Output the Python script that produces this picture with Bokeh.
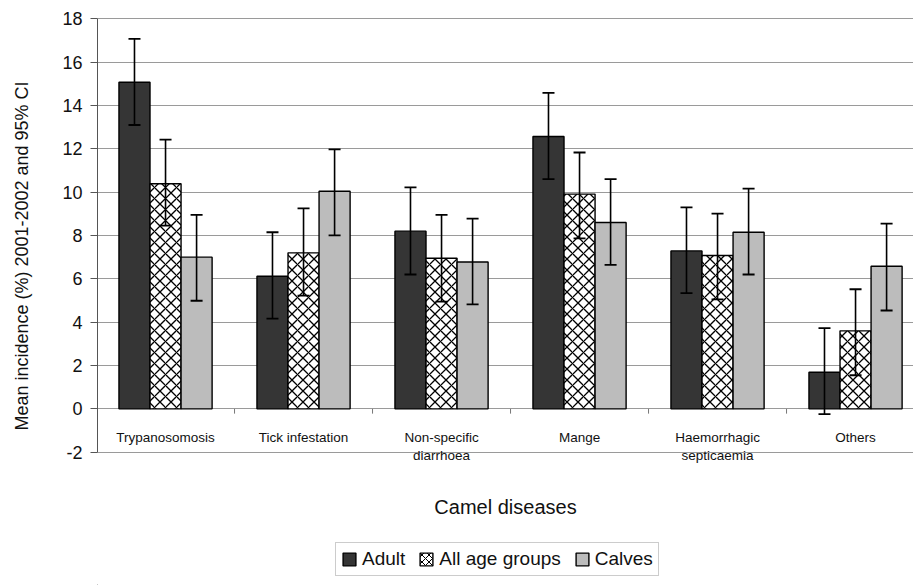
from bokeh.plotting import figure
from bokeh.layouts import column
from bokeh.models import (Range1d, FixedTicker, ColumnDataSource, Whisker, TeeHead,
                          Legend, LegendItem, LinearAxis)
from bokeh.core.properties import value
from bokeh.embed import file_html
from bokeh.resources import INLINE

# ---------------- data ----------------
categories = ["Trypanosomosis", "Tick infestation", "Non-specific\ndiarrhoea",
              "Mange", "Haemorrhagic\nsepticaemia", "Others"]
series_names = ["Adult", "All age groups", "Calves"]

adult = [15.07, 6.12, 8.2, 12.57, 7.29, 1.69]
adult_lo = [13.1, 4.16, 6.2, 10.6, 5.34, -0.24]
adult_hi = [17.07, 8.15, 10.22, 14.58, 9.3, 3.73]

allage = [10.39, 7.2, 6.95, 9.91, 7.08, 3.6]
allage_lo = [8.46, 5.23, 4.95, 7.87, 5.05, 1.55]
allage_hi = [12.42, 9.25, 8.95, 11.83, 9.01, 5.52]

calves = [7.0, 10.04, 6.78, 8.6, 8.15, 6.58]
calves_lo = [4.99, 8.01, 4.82, 6.64, 6.2, 4.54]
calves_hi = [8.95, 11.97, 8.78, 10.6, 10.16, 8.55]

y_ticks = [-2, 0, 2, 4, 6, 8, 10, 12, 14, 16, 18]

# ---------------- styles ----------------
FONT = "Liberation Sans"
fills = ["#353535", "white", "#bcbcbc"]
hatches = [" ", "x", " "]

# ---------------- main figure ----------------
p = figure(width=913, height=530, output_backend="svg", toolbar_location=None,
           x_range=Range1d(0.007, 5.92), y_range=Range1d(-3.998, 18.106),
           min_border_left=97, min_border_right=0, min_border_top=16,
           min_border_bottom=35, x_axis_type=None)
p.title.visible = False
p.outline_line_color = None
p.background_fill_color = "white"
p.border_fill_color = "white"

p.yaxis.ticker = FixedTicker(ticks=y_ticks)
p.yaxis.major_label_overrides = {t: str(t) for t in y_ticks}
p.yaxis.bounds = (-2, 18)
p.yaxis.minor_tick_line_color = None
p.yaxis.major_tick_out = 7
p.yaxis.major_tick_in = 0
p.yaxis.major_tick_line_color = "#555555"
p.yaxis.axis_line_color = "#555555"
p.yaxis.major_label_text_font = FONT
p.yaxis.major_label_text_font_size = "18px"
p.yaxis.major_label_text_color = "#111111"
p.yaxis.major_label_standoff = 8
p.yaxis.axis_label = "Mean incidence (%) 2001-2002 and 95% CI"
p.yaxis.axis_label_text_font = FONT
p.yaxis.axis_label_text_font_size = "18px"
p.yaxis.axis_label_text_font_style = "normal"
p.yaxis.axis_label_text_color = "#111111"
p.yaxis.axis_label_standoff = 27

p.ygrid.ticker = FixedTicker(ticks=y_ticks)
p.ygrid.grid_line_color = "#9a9a9a"
p.ygrid.grid_line_width = 1
p.xgrid.visible = False

xax = LinearAxis(ticker=FixedTicker(ticks=[]), axis_label="Camel diseases",
                 axis_line_color=None, major_tick_line_color=None,
                 minor_tick_line_color=None, major_label_text_font_size="0px",
                 axis_label_text_font=FONT, axis_label_text_font_size="20px",
                 axis_label_text_font_style="normal", axis_label_text_color="#111111",
                 axis_label_standoff=0)
p.add_layout(xax, "below")

n = len(categories)
centers = [i + 0.5 for i in range(n)]
bw = 0.225
offsets = [-bw, 0.0, bw]
series = [(adult, adult_lo, adult_hi), (allage, allage_lo, allage_hi),
          (calves, calves_lo, calves_hi)]

for k, (vals, lo, hi) in enumerate(series):
    xs = [c + offsets[k] for c in centers]
    src = ColumnDataSource(dict(x=xs, top=vals, lo=lo, hi=hi))
    p.vbar(x="x", top="top", bottom=0, width=bw, source=src,
           fill_color=fills[k], line_color="black", line_width=1.4,
           hatch_pattern=hatches[k], hatch_color="black",
           hatch_scale=11, hatch_weight=1.3)
    w = Whisker(source=src, base="x", upper="hi", lower="lo", level="overlay",
                line_color="black", line_width=1.6,
                upper_head=TeeHead(size=12, line_width=1.8, line_color="black"),
                lower_head=TeeHead(size=12, line_width=1.8, line_color="black"))
    p.add_layout(w)

bx = list(range(1, n))
p.segment(x0=bx, y0=[0] * len(bx), x1=bx, y1=[-0.22] * len(bx),
          line_color="#777777", line_width=1)

line1 = [c.split("\n")[0] for c in categories]
line2 = [c.split("\n")[1] if "\n" in c else "" for c in categories]
for txt, yy in ((line1, -1.3), (line2, -2.17)):
    p.text(x=centers, y=[yy] * n, text=txt, text_align="center",
           text_baseline="middle", text_font=value(FONT),
           text_font_size="13.5px", text_color="#111111")

# ---------------- legend strip ----------------
lg = figure(width=913, height=55, output_backend="svg", toolbar_location=None,
            x_range=Range1d(0, 1), y_range=Range1d(0, 1),
            x_axis_type=None, y_axis_type=None, min_border=0)
lg.title.visible = False
lg.outline_line_color = None
lg.xgrid.visible = False
lg.ygrid.visible = False
leg_renderers = []
for k in range(3):
    # legend proxy: a bar well outside the visible ranges, only its swatch is shown
    r = lg.vbar(x=[-10.0], bottom=[-10.0], top=[-9.0], width=0.1, fill_color=fills[k],
                line_color="black", line_width=1.4, hatch_pattern=hatches[k],
                hatch_color="black", hatch_scale=7, hatch_weight=1.0)
    leg_renderers.append(r)
legend = Legend(items=[LegendItem(label=series_names[k], renderers=[leg_renderers[k]])
                       for k in range(3)],
                orientation="horizontal", location=(238, 9),
                label_text_font=FONT, label_text_font_size="19px",
                label_text_color="#111111",
                glyph_width=16, glyph_height=16, label_standoff=5, spacing=13,
                padding=5, margin=0, border_line_color="#999999",
                border_line_width=1, background_fill_alpha=1)
lg.add_layout(legend)

layout = column(p, lg, spacing=0)
open("out.html", "w").write(file_html(layout, INLINE))
